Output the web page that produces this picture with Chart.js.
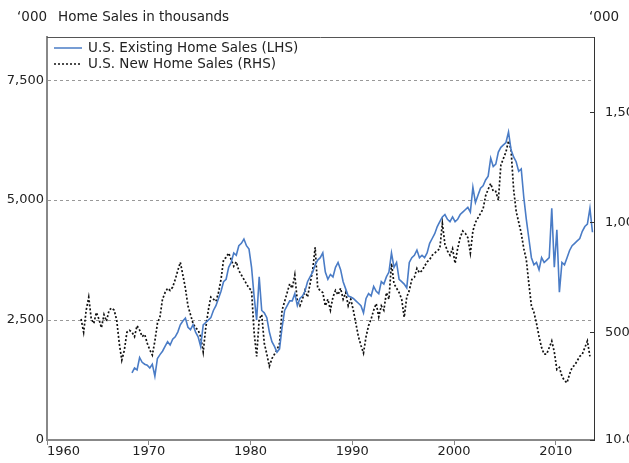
<!DOCTYPE html>
<html>
<head>
<meta charset="utf-8">
<script src="https://cdn.jsdelivr.net/npm/chart.js@4"></script>
<style>
  html, body { margin: 0; padding: 0; background: #fff; overflow: hidden; }
</style>
</head>
<body>
<canvas id="salesChart" width="645" height="463"></canvas>
<script>
// quarterly readings, one row per year (null = no data yet)
const existingYears = [1968, 1969, 1970, 1971, 1972, 1973, 1974, 1975, 1976, 1977,
  1978, 1979, 1980, 1981, 1982, 1983, 1984, 1985, 1986, 1987, 1988, 1989, 1990,
  1991, 1992, 1993, 1994, 1995, 1996, 1997, 1998, 1999, 2000, 2001, 2002, 2003,
  2004, 2005, 2006, 2007, 2008, 2009, 2010, 2011, 2012, 2013];
const existingSales = [
  [null, 1400, 1500, 1460], [1720, 1620, 1580, 1560], [1500, 1580, 1330, 1700],
  [1780, 1850, 1950, 2050], [1980, 2100, 2150, 2250], [2400, 2480, 2540, 2350],
  [2300, 2400, 2250, 2150], [1950, 2400, 2450, 2500], [2550, 2700, 2800, 2950],
  [3100, 3300, 3350, 3600], [3700, 3900, 3850, 4050], [4100, 4190, 4050, 3980],
  [3600, 3000, 2500, 3400], [2700, 2650, 2550, 2250], [2050, 1950, 1830, 1900],
  [2350, 2700, 2800, 2900], [2900, 3050, 2800, 2950], [3000, 3100, 3300, 3400],
  [3500, 3650, 3750, 3800], [3900, 3500, 3350, 3450], [3400, 3600, 3700, 3550],
  [3300, 3150, 3000, 2980], [2950, 2900, 2850, 2800], [2650, 2950, 3050, 3000],
  [3200, 3100, 3050, 3300], [3250, 3400, 3500, 3900], [3600, 3700, 3350, 3300],
  [3250, 3170, 3700, 3800], [3850, 3960, 3800, 3850], [3800, 3900, 4100, 4200],
  [4300, 4450, 4550, 4650], [4700, 4600, 4550, 4650], [4550, 4600, 4700, 4750],
  [4800, 4850, 4750, 5270], [4950, 5100, 5250, 5300], [5420, 5500, 5875, 5700],
  [5750, 6000, 6100, 6150], [6200, 6420, 6050, 5900], [5800, 5600, 5650, 5060],
  [4600, 4200, 3800, 3650], [3700, 3550, 3800, 3700], [3750, 3800, 4830, 3600],
  [4380, 3080, 3700, 3650], [3800, 3950, 4050, 4100], [4150, 4200, 4350, 4450],
  [4500, 4830, 4330, null]
];

const newYears = [1963, 1964, 1965, 1966, 1967, 1968, 1969, 1970, 1971, 1972,
  1973, 1974, 1975, 1976, 1977, 1978, 1979, 1980, 1981, 1982, 1983, 1984, 1985,
  1986, 1987, 1988, 1989, 1990, 1991, 1992, 1993, 1994, 1995, 1996, 1997, 1998,
  1999, 2000, 2001, 2002, 2003, 2004, 2005, 2006, 2007, 2008, 2009, 2010, 2011,
  2012, 2013];
const newSales = [
  [null, 560, 500, 600], [659, 560, 540, 590], [560, 520, 580, 550],
  [600, 610, 600, 555], [450, 373, 418, 500], [509, 500, 480, 530],
  [510, 480, 490, 450], [420, 396, 460, 540], [570, 650, 680, 700],
  [690, 705, 740, 780], [818, 760, 700, 620], [580, 540, 520, 510],
  [480, 410, 520, 600], [660, 650, 640, 680], [740, 830, 840, 860],
  [830, 800, 820, 780], [760, 740, 720, 700], [690, 500, 390, 560],
  [580, 450, 400, 345], [380, 400, 420, 450], [600, 640, 680, 720],
  [700, 760, 640, 620], [650, 690, 660, 720], [780, 886, 700, 690],
  [680, 620, 650, 600], [660, 690, 670, 700], [650, 680, 620, 650],
  [600, 540, 480, 440], [405, 480, 530, 560], [600, 630, 570, 620],
  [600, 680, 650, 813], [720, 700, 680, 650], [568, 660, 690, 740],
  [750, 790, 770, 780], [800, 820, 830, 850], [860, 870, 880, 995],
  [900, 870, 850, 880], [813, 880, 930, 960], [950, 930, 860, 960],
  [1000, 1020, 1040, 1060], [1120, 1150, 1176, 1140], [1140, 1100, 1260, 1290],
  [1320, 1370, 1330, 1150], [1050, 1000, 950, 880], [830, 720, 620, 590],
  [540, 480, 430, 400], [400, 430, 460, 410], [330, 340, 300, 280],
  [270, 310, 340, 350], [370, 390, 400, 430], [460, 390, null, null]
];

const yearTicks = [1960, 1970, 1980, 1990, 2000, 2010];
const leftTicks = [0, 2500, 5000, 7500];
const rightTicks = [10, 500, 1000, 1500];

function toPoints(years, rows) {
  const pts = [];
  years.forEach((yr, i) => {
    rows[i].forEach((v, q) => {
      if (v !== null) pts.push({ x: yr + q / 4 + 0.1, y: v });
    });
  });
  return pts;
}

const FONT = '"DejaVu Sans", Verdana, sans-serif';

const decor = {
  id: 'decor',
  afterDraw(chart) {
    const { ctx, chartArea: a, scales } = chart;
    ctx.save();
    // top frame line
    ctx.strokeStyle = '#555';
    ctx.lineWidth = 1;
    ctx.beginPath();
    ctx.moveTo(a.left, a.top + 0.5);
    ctx.lineTo(a.right, a.top + 0.5);
    ctx.stroke();
    // inward ticks on right axis
    ctx.strokeStyle = '#333';
    rightTicks.forEach(v => {
      const y = Math.round(scales.yR.getPixelForValue(v)) + 0.5;
      ctx.beginPath();
      ctx.moveTo(a.right - 4, y);
      ctx.lineTo(a.right, y);
      ctx.stroke();
    });
    // year labels
    ctx.fillStyle = '#222';
    ctx.font = '13px ' + FONT;
    ctx.textBaseline = 'middle';
    yearTicks.forEach((yr, i) => {
      ctx.textAlign = i === 0 ? 'left' : 'center';
      ctx.fillText(String(yr), scales.x.getPixelForValue(yr), 452);
    });
    // titles
    ctx.textAlign = 'left';
    ctx.font = '13.5px ' + FONT;
    ctx.fillText('‘000', 17, 17);
    ctx.fillText('Home Sales in thousands', 58, 17);
    ctx.fillText('‘000', 589, 17);
    // legend
    const items = chart.data.datasets;
    items.forEach((ds, i) => {
      const y = 48 + i * 16;
      ctx.strokeStyle = ds.borderColor;
      ctx.lineWidth = 1.5;
      ctx.setLineDash(ds.borderDash || []);
      ctx.beginPath();
      ctx.moveTo(54, y);
      ctx.lineTo(82, y);
      ctx.stroke();
      ctx.setLineDash([]);
      ctx.fillStyle = '#222';
      ctx.fillText(ds.label, 88, y);
    });
    ctx.restore();
  }
};

new Chart(document.getElementById('salesChart'), {
  type: 'line',
  data: {
    datasets: [
      {
        label: 'U.S. Existing Home Sales (LHS)',
        data: toPoints(existingYears, existingSales),
        yAxisID: 'yL',
        borderColor: '#4a7cc6',
        borderWidth: 1.6
      },
      {
        label: 'U.S. New Home Sales (RHS)',
        data: toPoints(newYears, newSales),
        yAxisID: 'yR',
        borderColor: '#111',
        borderWidth: 1.7,
        borderDash: [2, 2]
      }
    ]
  },
  plugins: [decor],
  options: {
    responsive: false,
    animation: false,
    layout: { padding: { top: 37, left: 0, right: 0, bottom: 0 } },
    elements: { point: { radius: 0 }, line: { tension: 0 } },
    plugins: { legend: { display: false }, tooltip: { enabled: false } },
    scales: {
      x: {
        type: 'linear',
        min: 1960,
        max: 2013.75,
        afterBuildTicks: s => { s.ticks = yearTicks.map(v => ({ value: v })); },
        afterFit: s => { s.height = 23; },
        ticks: { display: false },
        grid: { drawOnChartArea: false, drawTicks: true, tickLength: 5, tickColor: '#888' },
        border: { color: '#888', width: 2 }
      },
      yL: {
        position: 'left',
        min: 0,
        max: 8400,
        afterBuildTicks: s => { s.ticks = leftTicks.map(v => ({ value: v })); },
        afterFit: s => { s.width = 47; },
        ticks: {
          color: '#222',
          font: { family: FONT, size: 13 },
          padding: 3,
          callback: v => v.toLocaleString('en-US')
        },
        grid: {
          drawTicks: false,
          color: c => (c.tick && c.tick.value === 0 ? 'rgba(0,0,0,0)' : '#999')
        },
        border: { color: '#888', width: 2, dash: [3, 3] }
      },
      yR: {
        position: 'right',
        min: 10,
        max: 1842,
        afterBuildTicks: s => { s.ticks = rightTicks.map(v => ({ value: v })); },
        afterFit: s => { s.width = 51; },
        ticks: {
          color: '#222',
          font: { family: FONT, size: 13 },
          padding: 3,
          callback: v => (v === 10 ? '10.0' : v.toLocaleString('en-US'))
        },
        grid: { display: false },
        border: { color: '#333', width: 1 }
      }
    }
  }
});
</script>
</body>
</html>
